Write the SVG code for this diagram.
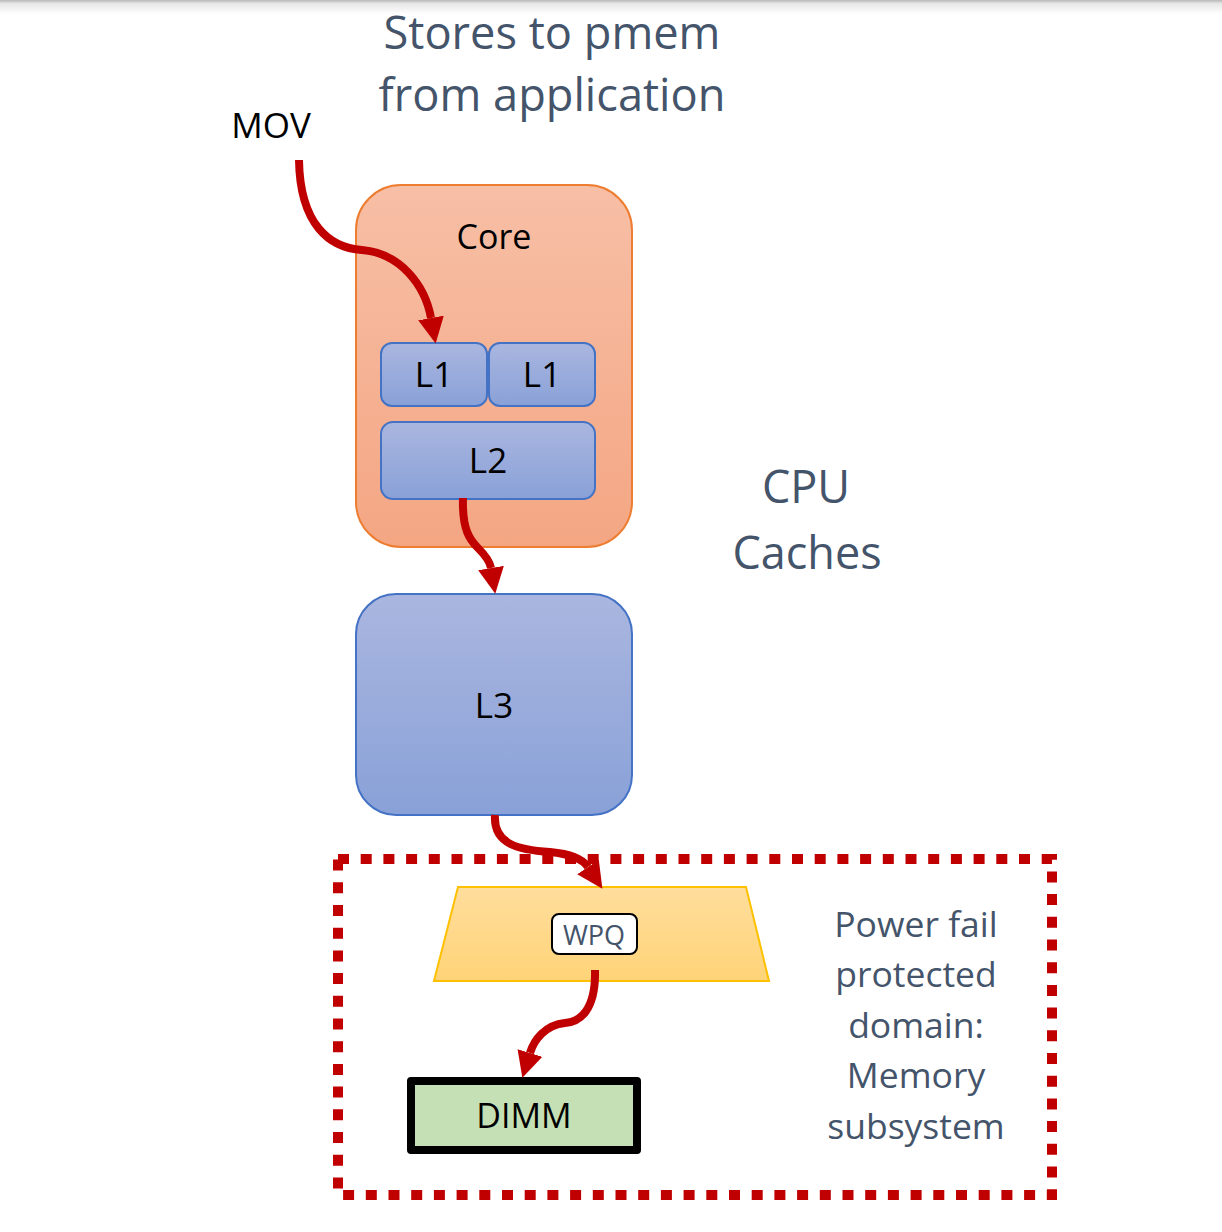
<svg xmlns="http://www.w3.org/2000/svg" width="1222" height="1232" viewBox="0 0 1222 1232">
<defs>
<style>
text{font-family:"Open Sans","Liberation Sans",sans-serif;text-anchor:middle}
.dk{fill:#000}
.sl{fill:#44546A}
.cache{stroke:#4472C4;stroke-width:2;fill:url(#gBlue)}
.conn{fill:none;stroke:#C00000;stroke-width:8;marker-end:url(#ah)}
</style>
<linearGradient id="gTop" x1="0" y1="0" x2="0" y2="1"><stop offset="0" stop-color="#b8b8b8"/><stop offset="0.25" stop-color="#e6e6e6"/><stop offset="1" stop-color="#ffffff"/></linearGradient>
<linearGradient id="gCore" x1="0" y1="0" x2="0" y2="1"><stop offset="0" stop-color="#F7BFA6"/><stop offset="1" stop-color="#F4A683"/></linearGradient>
<linearGradient id="gBlue" x1="0" y1="0" x2="0" y2="1"><stop offset="0" stop-color="#AAB6DF"/><stop offset="1" stop-color="#89A1D8"/></linearGradient>
<linearGradient id="gYel" x1="0" y1="0" x2="0" y2="1"><stop offset="0" stop-color="#FFDD9C"/><stop offset="1" stop-color="#FFD478"/></linearGradient>
<marker id="ah" markerUnits="userSpaceOnUse" viewBox="0 0 10 10" refX="0" refY="5" markerWidth="26" markerHeight="27" orient="auto"><path d="M0,0 L10,5 L0,10 z" fill="#C00000"/></marker>
</defs>
<rect width="1222" height="1232" fill="#fff"/>
<rect x="0" y="0" width="1222" height="14" fill="url(#gTop)"/>

<g id="title"><text class="sl" x="552" y="48.5" font-size="45.2">Stores to pmem</text><text class="sl" x="552" y="111" font-size="45.2">from application</text></g>
<g id="mov"><text class="dk" x="271" y="138" font-size="35">MOV</text></g>

<g id="core"><rect x="356" y="185" width="276" height="362" rx="45" fill="url(#gCore)" stroke="#ED7D31" stroke-width="2"/><text class="dk" x="494" y="249" font-size="34">Core</text></g>
<g id="l1a"><rect class="cache" x="381" y="343" width="106" height="63" rx="11"/><text class="dk" x="434" y="387" font-size="35">L1</text></g>
<g id="l1b"><rect class="cache" x="489" y="343" width="106" height="63" rx="11"/><text class="dk" x="542" y="387" font-size="35">L1</text></g>
<g id="l2"><rect class="cache" x="381" y="422" width="214" height="77" rx="12"/><text class="dk" x="488" y="473" font-size="35">L2</text></g>

<g id="cpu-caches"><text class="sl" x="806" y="503" font-size="45">CPU</text><text class="sl" x="807" y="569" font-size="45">Caches</text></g>

<g id="l3"><rect class="cache" x="356" y="594" width="276" height="221" rx="40"/><text class="dk" x="494" y="718" font-size="35">L3</text></g>

<g id="pf-domain"><rect x="338" y="859" width="714" height="336" fill="none" stroke="#C00000" stroke-width="10" stroke-dasharray="11 11.7"/>
<text class="sl" font-size="35.5"><tspan x="916" y="937">Power fail</tspan><tspan x="916" y="987">protected</tspan><tspan x="916" y="1038">domain:</tspan><tspan x="916" y="1088">Memory</tspan><tspan x="916" y="1139">subsystem</tspan></text></g>

<g id="mc"><polygon points="458,887 746,887 769,981 434,981" fill="url(#gYel)" stroke="#FFC000" stroke-width="2"/></g>
<g id="wpq"><rect x="552" y="914" width="85" height="40" rx="7" fill="#fff" stroke="#000" stroke-width="2"/><text class="sl" x="594" y="945" font-size="27">WPQ</text></g>

<g id="dimm"><rect x="411" y="1081" width="226" height="69" fill="#C5E0B4" stroke="#000" stroke-width="8" stroke-linejoin="round"/><text class="dk" x="524" y="1128" font-size="34">DIMM</text></g>

<g id="connectors">
<path class="conn" d="M299,160 C300,225 330,248 362,250 C400,253 425,285 431,318"/>
<path class="conn" d="M463,498 C462,530 470,540 478,548 C486,556 490,562 491,568"/>
<path class="conn" d="M495,815 C493,845 520,850 550,852 C570,854 582,858 588,867"/>
<path class="conn" d="M595,970 C596,1010 580,1022 565,1023 C545,1025 534,1040 530,1053"/>
</g>
</svg>
